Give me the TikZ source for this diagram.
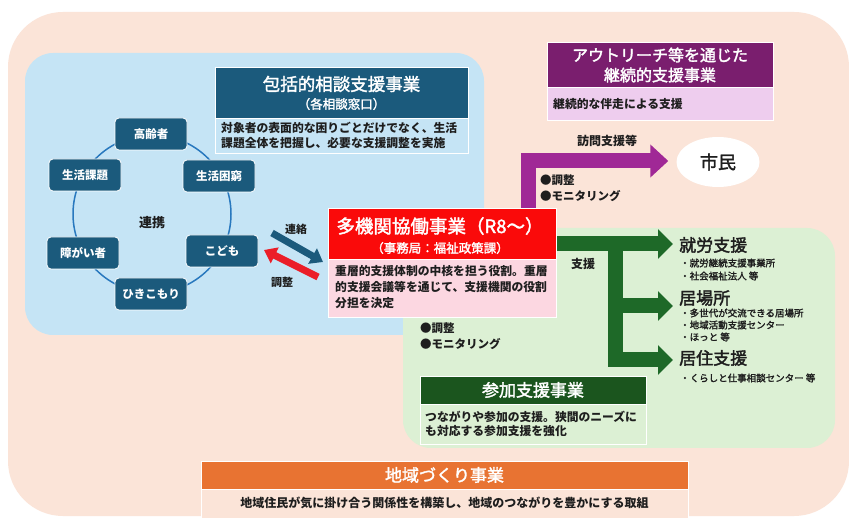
\documentclass[tikz,border=0pt]{standalone}
\usepackage{fontspec}
\setmainfont{Noto Sans CJK JP}
\newfontfamily\medfont[FakeBold=2]{Noto Sans CJK JP}
\usetikzlibrary{arrows.meta,shapes.geometric,calc}
\definecolor{peach}{RGB}{251,228,216}
\definecolor{bluebg}{RGB}{197,228,245}
\definecolor{greenbg}{RGB}{220,240,212}
\definecolor{teal1}{RGB}{27,90,124}
\definecolor{circblue}{RGB}{40,120,190}
\definecolor{redhd}{RGB}{250,10,10}
\definecolor{redarr}{RGB}{235,30,40}
\definecolor{pinkbox}{RGB}{252,215,225}
\definecolor{purphd}{RGB}{122,30,110}
\definecolor{purplt}{RGB}{238,205,238}
\definecolor{purarr}{RGB}{160,40,150}
\definecolor{grnhd}{RGB}{27,85,30}
\definecolor{grnarr}{RGB}{30,105,40}
\definecolor{orghd}{RGB}{232,115,50}
\definecolor{txtdark}{RGB}{30,30,30}
\newcommand\fsz[1]{\fontsize{#1}{#1}\selectfont}
\tikzset{
  cnode/.style={draw=white, line width=0.8pt, fill=teal1, rounded corners=4pt,
    minimum width=72pt, minimum height=32pt, text=white, font=\bfseries\fsz{11.5}, inner sep=0pt},
  boxhd/.style={draw=white, line width=1pt, anchor=north west, inner sep=0pt},
  hdtext/.style={text=white, font=\medfont\fsz{17.5}, inner sep=0pt},
  subtext/.style={text=white, font=\medfont\fsz{12.5}, inner sep=0pt},
  bodytext/.style={text=txtdark, font=\bfseries\fontsize{11.8}{14.5}\selectfont, align=left, anchor=west, inner sep=0pt},
  lbl/.style={text=txtdark, font=\bfseries\fsz{11.5}, inner sep=0pt},
  ttl/.style={text=txtdark, font=\medfont\fsz{17}, anchor=west, inner sep=0pt},
  itm/.style={text=txtdark, font=\medfont\fsz{9.5}, anchor=west, inner sep=0pt},
  parrow/.style={purarr, line width=15pt, -{Triangle[length=18pt,width=32pt]}},
  garrow/.style={grnarr, line width=15pt, -{Triangle[length=15pt,width=29pt]}},
  darrow/.style={line width=7pt, -{Triangle[length=12pt,width=17pt]}},
}
\begin{document}
\begin{tikzpicture}[x=1pt,y=-1pt]
\fill[white] (0,0) rectangle (849,518);
\useasboundingbox (0,0) rectangle (849,518);
% regions
\fill[peach, rounded corners=55pt] (8,12) rectangle (849,516);
\fill[bluebg, rounded corners=28pt] (25,53) rectangle (484,335);
\fill[greenbg, rounded corners=28pt] (403,228) rectangle (835,448);

% circle of partners
\draw[circblue, line width=1.5pt] (152,214) circle[radius=79pt];
\node[cnode] (n1) at (151,134) {高齢者};
\node[cnode] (n2) at (219,176) {生活困窮};
\node[cnode] (n3) at (85,175) {生活課題};
\node[cnode] (n4) at (222,251) {こども};
\node[cnode] (n5) at (83,253) {障がい者};
\node[cnode] (n6) at (151,294) {ひきこもり};
\node[text=txtdark, font=\bfseries\fsz{13}] (rk) at (152,223) {連携};

% 包括的相談支援事業
\node[boxhd, fill=teal1, minimum width=253pt, minimum height=51pt] (hA) at (215,67) {};
\node[hdtext] (hAt) at (341.5,84) {包括的相談支援事業};
\node[subtext] (hAs) at (341.5,104) {（各相談窓口）};
\node[boxhd, fill=bluebg, minimum width=253pt, minimum height=35pt] (tA) at (215,118) {};
\node[bodytext] (tAt) at (221,135.5) {対象者の表面的な困りごとだけでなく、生活\\課題全体を把握し、必要な支援調整を実施};

% アウトリーチ
\node[boxhd, fill=purphd, minimum width=226pt, minimum height=45pt] (hP) at (547,42) {};
\node[hdtext, font=\medfont\fsz{16}] (hPt1) at (660,55) {アウトリーチ等を通じた};
\node[hdtext, font=\medfont\fsz{16}] (hPt2) at (660,75) {継続的支援事業};
\node[boxhd, fill=purplt, minimum width=226pt, minimum height=33pt] (tP) at (547,87) {};
\node[bodytext] (tPt) at (553,104) {継続的な伴走による支援};

% 市民
\node[ellipse, fill=white, minimum width=83pt, minimum height=50pt, inner sep=0pt, text=txtdark, font=\medfont\fsz{18}] (sm) at (718,162) {市民};

% arrows out of 多機関協働
\coordinate (pS) at (528,208);
\coordinate (pT) at ($(sm.west)+(-8,-1)$);
\draw[parrow] (pS) |- (pT);
\node[lbl, font=\bfseries\fsz{12}] (hm) at (607,141) {訪問支援等};
\node[lbl, anchor=west] (pc1) at (540,180) {●調整};
\node[lbl, anchor=west] (pc2) at (540,196) {●モニタリング};

\coordinate (gS) at (550,244);
\coordinate (gV) at (615,244);
\coordinate (gM) at (615,306);
\coordinate (g1) at (673,244);
\coordinate (g2) at (673,306);
\coordinate (g3) at (673,360);
\draw[garrow] (gS) -- (g1);
\draw[garrow] (gV) |- (g3);
\draw[garrow] (gM) -- (g2);
\node[lbl, font=\bfseries\fsz{12}] (sh) at (583,264) {支援};
\node[lbl, anchor=west] (gc1) at (420,328) {●調整};
\node[lbl, anchor=west] (gc2) at (420,344) {●モニタリング};

% 多機関協働事業
\node[boxhd, fill=redhd, minimum width=228pt, minimum height=51pt] (hR) at (328,208) {};
\node[hdtext, font=\medfont\fsz{18.5}] (hRt) at (440,226) {多機関協働事業（R8～）};
\node[subtext] (hRs) at (440,248) {（事務局：福祉政策課）};
\node[boxhd, fill=pinkbox, minimum width=228pt, minimum height=58pt] (tR) at (328,259) {};
\node[bodytext, font=\bfseries\fontsize{11.8}{16}\selectfont] (tRt) at (335,287.5) {重層的支援体制の中核を担う役割。重層\\的支援会議等を通じて、支援機関の役割\\分担を決定};

% 連絡 / 調整
\coordinate (bA) at (272,233);
\coordinate (bB) at (323,262);
\coordinate (rA) at (318,277);
\coordinate (rB) at (264,250);
\draw[darrow, teal1] (bA) -- (bB);
\draw[darrow, redarr] (rA) -- (rB);
\node[lbl, font=\bfseries\fsz{11}] (rl1) at (296,229) {連絡};
\node[lbl, font=\bfseries\fsz{11}] (rl2) at (282,282) {調整};

% right side destinations
\node[ttl] (d1) at (679,245) {就労支援};
\node[itm] (d1a) at (680,263) {・就労継続支援事業所};
\node[itm] (d1b) at (680,276) {・社会福祉法人 等};
\node[ttl] (d2) at (679,298) {居場所};
\node[itm] (d2a) at (680,313) {・多世代が交流できる居場所};
\node[itm] (d2b) at (680,325) {・地域活動支援センター};
\node[itm] (d2c) at (680,337) {・ほっと 等};
\node[ttl] (d3) at (679,358) {居住支援};
\node[itm] (d3a) at (680,378) {・くらしと仕事相談センター 等};

% 参加支援事業
\node[boxhd, fill=grnhd, minimum width=226pt, minimum height=28pt] (hG) at (420,376) {};
\node[hdtext, font=\medfont\fsz{17}] (hGt) at (533,390) {参加支援事業};
\node[boxhd, fill=greenbg, minimum width=226pt, minimum height=40pt] (tG) at (420,404) {};
\node[bodytext] (tGt) at (425,424) {つながりや参加の支援。狭間のニーズに\\も対応する参加支援を強化};

% 地域づくり事業
\node[boxhd, fill=orghd, minimum width=487pt, minimum height=28pt] (hO) at (201,461) {};
\node[hdtext, font=\medfont\fsz{17}] (hOt) at (444.5,475) {地域づくり事業};
\node[boxhd, fill=peach, minimum width=487pt, minimum height=40pt] (tO) at (201,489) {};
\node[lbl, font=\bfseries\fsz{12}] (tOt) at (444.5,503) {地域住民が気に掛け合う関係性を構築し、地域のつながりを豊かにする取組};
\end{tikzpicture}
\end{document}
